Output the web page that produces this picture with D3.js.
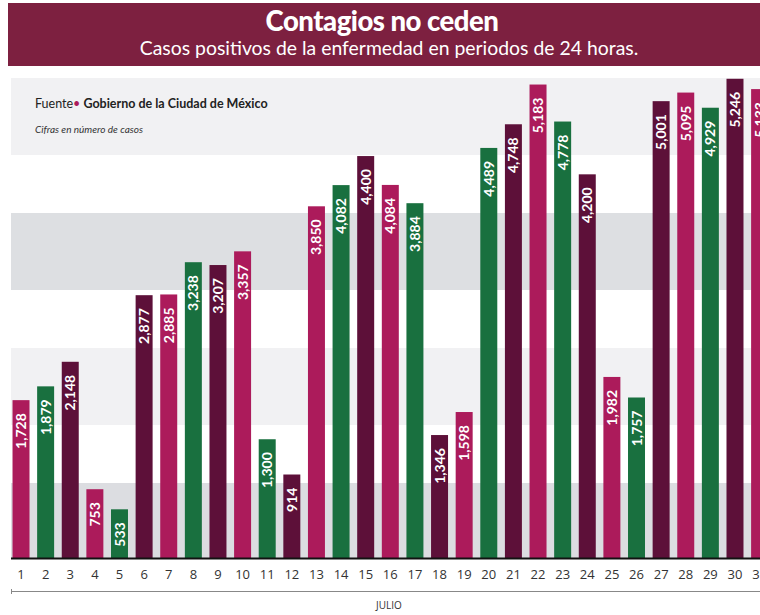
<!DOCTYPE html>
<html>
<head>
<meta charset="utf-8">
<script src="https://cdn.jsdelivr.net/npm/d3@7"></script>
<style>
  html, body { margin: 0; padding: 0; background: #fff; }
  svg { display: block; }
</style>
</head>
<body>
<svg id="chart" width="760" height="615"></svg>
<script>
// Daily positive cases, July (Mexico City)
const days = d3.range(1, 32);
const cases = [1728, 1879, 2148, 753, 533, 2877, 2885, 3238, 3207, 3357,
               1300, 914, 3850, 4082, 4400, 4084, 3884, 1346, 1598, 4489,
               4748, 5183, 4778, 4200, 1982, 1757, 5001, 5095, 4929, 5246,
               5133];
const barColors = ["#ac1b5b", "#19703f", "#5d1039"];
const monthLabel = "JULIO";
const titleText = "Contagios no ceden";
const subtitleText = "Casos positivos de la enfermedad en periodos de 24 horas.";

const W = 760, H = 615;
const left = 11;
const baseY = 558;

const svg = d3.select("#chart");

// background stripes
const stripes = [
  [78, 155, "#f1f1f3"], [155, 213, "#ffffff"], [213, 290, "#dddfe2"],
  [290, 348, "#ffffff"], [348, 425, "#f1f1f3"], [425, 483, "#ffffff"],
  [483, 558, "#dcdde1"]
];
svg.append("g").selectAll("rect").data(stripes).join("rect")
  .attr("x", left).attr("width", W - left)
  .attr("y", d => d[0]).attr("height", d => d[1] - d[0])
  .attr("fill", d => d[2]);

// header
svg.append("rect").attr("x", left - 3).attr("y", 3).attr("width", W - left + 3).attr("height", 63)
  .attr("fill", "#7d2040");
svg.append("text").attr("x", 382).attr("y", 31).attr("text-anchor", "middle")
  .attr("font-family", "Lato, sans-serif").attr("font-weight", 900).attr("font-size", 27.5)
  .attr("fill", "#fff").attr("letter-spacing", -0.5).text(titleText);
svg.append("text").attr("x", 389).attr("y", 55).attr("text-anchor", "middle")
  .attr("font-family", "Lato, sans-serif").attr("font-size", 19.4)
  .attr("fill", "#fff").text(subtitleText);

// source note
const src = svg.append("text").attr("x", 35).attr("y", 108)
  .attr("font-family", "Lato, sans-serif").attr("font-size", 12.5).attr("fill", "#222");
src.append("tspan").text("Fuente");
src.append("tspan").attr("fill", "#ac1b5b").text("•");
src.append("tspan").attr("font-weight", 700).text(" Gobierno de la Ciudad de México");
svg.append("text").attr("x", 35).attr("y", 133)
  .attr("font-family", "Lato, sans-serif").attr("font-style", "italic").attr("font-size", 10)
  .attr("fill", "#333").text("Cifras en número de casos");

// scales
const x = d3.scaleBand().domain(days).range([8.7, 8.7 + 31 * 24.62])
  .paddingInner(0.31).paddingOuter(0.155);
const y = d3.scaleLinear().domain([0, 5000]).range([baseY, baseY - 5000 * 0.09135]);

const data = days.map((d, i) => ({ day: d, value: cases[i], color: barColors[i % 3] }));

// bars
svg.append("g").selectAll("rect").data(data).join("rect")
  .attr("x", d => x(d.day)).attr("width", x.bandwidth())
  .attr("y", d => y(d.value)).attr("height", d => baseY - y(d.value))
  .attr("fill", d => d.color);

// value labels, rotated inside bars
const fmt = d3.format(",");
svg.append("g").selectAll("text").data(data).join("text")
  .attr("transform", d => `translate(${x(d.day) + x.bandwidth() / 2},${y(d.value) + 13}) rotate(-90)`)
  .attr("text-anchor", "end").attr("dy", "0.36em")
  .attr("font-family", "Lato, sans-serif").attr("font-weight", 700).attr("font-size", 14)
  .attr("fill", "#fff").text(d => fmt(d.value));

// baseline
svg.append("line").attr("x1", left).attr("x2", W).attr("y1", baseY + 0.5).attr("y2", baseY + 0.5)
  .attr("stroke", "#111").attr("stroke-width", 2);

// day axis
const axis = svg.append("g").attr("transform", `translate(0,${baseY})`)
  .call(d3.axisBottom(x).tickSize(0).tickPadding(12));
axis.select(".domain").remove();
axis.selectAll("text").attr("font-family", "Open Sans, sans-serif").attr("font-size", 13)
  .attr("fill", "#333");

// month line
svg.append("line").attr("x1", left).attr("x2", W).attr("y1", 591.5).attr("y2", 591.5)
  .attr("stroke", "#888").attr("stroke-width", 1);
svg.append("line").attr("x1", left + 0.5).attr("x2", left + 0.5).attr("y1", 589).attr("y2", 594)
  .attr("stroke", "#888").attr("stroke-width", 1);
svg.append("text").attr("x", 389).attr("y", 609).attr("text-anchor", "middle")
  .attr("font-family", "Open Sans, sans-serif").attr("font-size", 10).attr("fill", "#333")
  .text(monthLabel);
</script>
</body>
</html>
